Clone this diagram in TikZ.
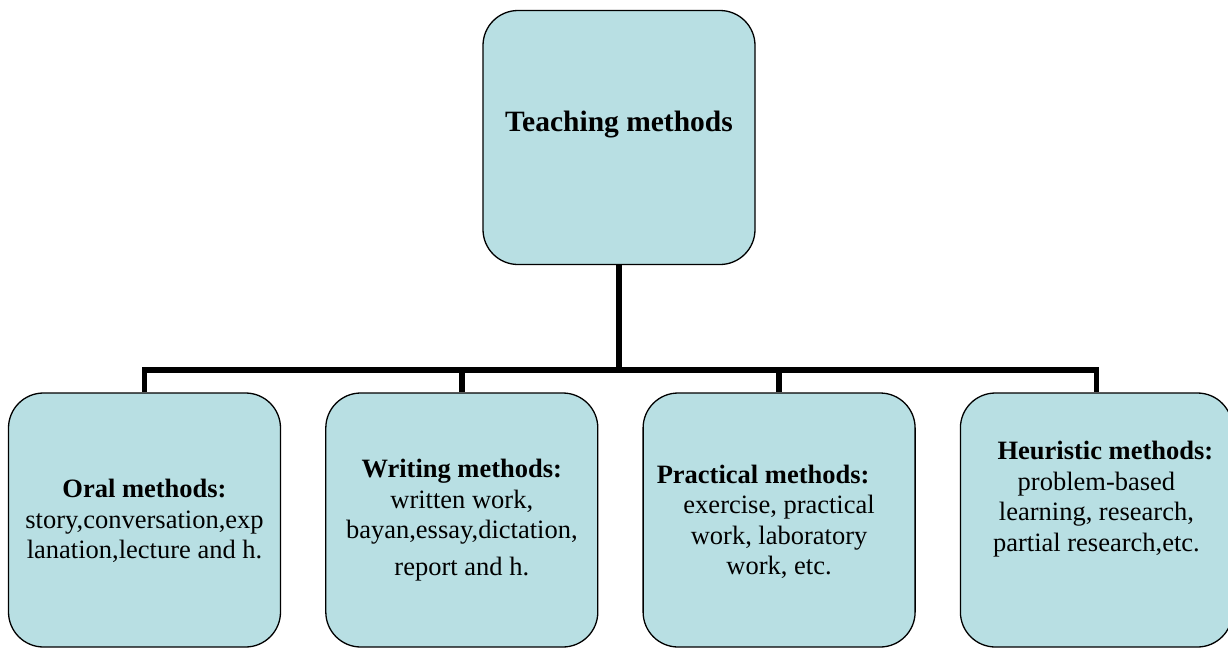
\documentclass[tikz,border=0pt]{standalone}
\usepackage{fontspec}
\setmainfont{Liberation Serif}
\usetikzlibrary{positioning}
\definecolor{boxblue}{RGB}{184,223,227}

\begin{document}
\begin{tikzpicture}[
    x=1pt, y=1pt,
    font=\fontsize{26.5}{30.5}\selectfont,
    box/.style={draw, line width=1.3pt, rounded corners=35pt, fill=boxblue,
                align=center, inner sep=0pt, minimum width=272pt, minimum height=254pt},
    conn/.style={line width=5.5pt, line join=miter}
  ]
  \useasboundingbox (0,0) rectangle (1228,-648);
  \node[box, text depth=32pt, font=\fontsize{29.5}{33}\selectfont\bfseries]
      (teach) at (619,-137.5) {Teaching methods};
  \node[box, text depth=2pt] (oral) at (144.5,-520)
      {\textbf{Oral methods:}\\story,conversation,exp\\lanation,lecture and h.};
  \node[box, right=44pt of oral] (writ)
      {\textbf{Writing methods:}\\written work,\\bayan,essay,dictation,\\[6pt]report and h.};
  \node[box, right=44pt of writ, text depth=0pt] (prac)
      {\textbf{Practical methods:}\hspace*{32pt}\\exercise, practical\\work, laboratory\\work, etc.};
  \node[box, right=44pt of prac, text depth=47pt] (heur)
      {\hspace*{18pt}\textbf{Heuristic methods:}\\problem-based\\learning, research,\\partial research,etc.};
  \coordinate (bar) at (0,-370);
  \draw[conn] (teach.south) -- (teach.south |- bar);
  \draw[conn] (oral.north) |- (heur.north |- bar) -- (heur.north);
  \draw[conn] (writ.north) -- (writ.north |- bar);
  \draw[conn] (prac.north) -- (prac.north |- bar);
\end{tikzpicture}
\end{document}
